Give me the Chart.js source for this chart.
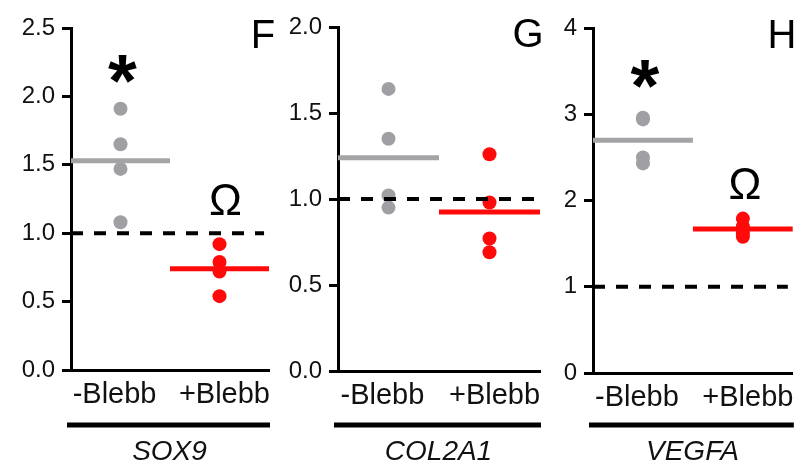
<!DOCTYPE html>
<html><head><meta charset="utf-8">
<script src="https://cdn.jsdelivr.net/npm/chart.js@4"></script>
<style>
html,body{margin:0;padding:0;background:#fff;}
#wrap{position:relative;width:803px;height:463px;overflow:hidden;background:#fff;}
canvas{position:absolute;top:0;left:0;}
</style></head><body>
<div id="wrap">
<canvas id="cF" width="803" height="463"></canvas>
<canvas id="cG" width="803" height="463"></canvas>
<canvas id="cH" width="803" height="463"></canvas>
</div>
<script>
// ---- data ----
const categories = ['-Blebb', '+Blebb'];
const genes = ['SOX9', 'COL2A1', 'VEGFA'];
const panelLetters = ['F', 'G', 'H'];
const sox9Minus = [1.91, 1.65, 1.47, 1.08];
const sox9Plus = [0.92, 0.79, 0.72, 0.54];
const sox9Means = [1.53, 0.74];
const col2a1Minus = [1.64, 1.35, 1.02, 0.95];
const col2a1Plus = [1.26, 0.98, 0.77, 0.69];
const col2a1Means = [1.24, 0.925];
const vegfaMinus = [2.96, 2.94, 2.50, 2.43];
const vegfaPlus = [1.79, 1.70, 1.62, 1.58];
const vegfaMeans = [2.70, 1.67];
const baselineValue = 1.0;
const sox9Ticks = [0, 0.5, 1.0, 1.5, 2.0, 2.5];
const col2a1Ticks = [0, 0.5, 1.0, 1.5, 2.0];
const vegfaTicks = [0, 1, 2, 3, 4];
// significance symbols: [symbol, category index]
const sox9Signif = [['*', 0], ['Ω', 1]];
const col2a1Signif = [];
const vegfaSignif = [['*', 0], ['Ω', 1]];

// ---- styling / layout ----
const FONT = "'Liberation Sans', Arial, Helvetica, sans-serif";
const GRAY_PT = '#a0a0a4';
const GRAY_LN = '#a4a4a7';
const RED = '#ff0a0a';
const LABEL_POS = [0.44, 1.55];   // x-label anchor positions (layout)

const panels = [
  {id:'cF', gene:genes[0], letter:panelLetters[0], minus:sox9Minus, plus:sox9Plus, means:sox9Means, ticks:sox9Ticks, dec:1,
   signif:sox9Signif, signifPos:{'*':[0.52, 2.24],'Ω':[1.56, 1.25]},
   left:0, yW:71, right:269, top:28, bottom:370, letterDx:-6},
  {id:'cG', gene:genes[1], letter:panelLetters[1], minus:col2a1Minus, plus:col2a1Plus, means:col2a1Means, ticks:col2a1Ticks, dec:1,
   signif:col2a1Signif, signifPos:{},
   left:270, yW:68, right:540, top:27, bottom:371, letterDx:-12},
  {id:'cH', gene:genes[2], letter:panelLetters[2], minus:vegfaMinus, plus:vegfaPlus, means:vegfaMeans, ticks:vegfaTicks, dec:0,
   signif:vegfaSignif, signifPos:{'*':[0.52, 3.53],'Ω':[1.52, 2.20]},
   left:540, yW:53, right:798, top:28, bottom:373, letterDx:-11}
];

const W = 803, H = 463;

function makePlugin(p) {
  return {
    id: 'decor_' + p.id,
    afterDraw(chart) {
      const ctx = chart.ctx;
      const a = chart.chartArea;
      const xs = chart.scales.x, ys = chart.scales.y;
      ctx.save();
      p.signif.forEach(([sym]) => {
        const pos = p.signifPos[sym];
        const px = xs.getPixelForValue(pos[0]);
        const py = ys.getPixelForValue(pos[1]);
        ctx.fillStyle = '#000';
        ctx.textAlign = 'center';
        ctx.textBaseline = 'alphabetic';
        if (sym === '*') {
          ctx.font = 'bold 74px ' + FONT;
          ctx.fillText(sym, px, py + 0.57 * 74);
        } else {
          ctx.font = '44px ' + FONT;
          ctx.fillText(sym, px, py + 0.36 * 44);
        }
      });
      ctx.font = '40px ' + FONT;
      ctx.textAlign = 'center';
      ctx.textBaseline = 'alphabetic';
      ctx.fillStyle = '#000';
      ctx.fillText(p.letter, a.right + p.letterDx, a.top + 6 + 0.358 * 40);
      const x1 = a.left - 4, x2 = a.right + 1;
      ctx.strokeStyle = '#000';
      ctx.lineWidth = 5;
      ctx.beginPath();
      ctx.moveTo(x1, 425); ctx.lineTo(x2, 425);
      ctx.stroke();
      ctx.font = 'italic 28px ' + FONT;
      ctx.fillStyle = '#111';
      ctx.fillText(p.gene, (x1 + x2) / 2 + 1, 450 + 0.358 * 28);
      ctx.restore();
    }
  };
}

panels.forEach(p => {
  const datasets = [
    {label:'baseline', data:[{x:0, y:baselineValue}, {x:1.95, y:baselineValue}], showLine:true,
     borderColor:'#000', borderWidth:4, borderDash:[12, 11], pointRadius:0, order:0},
    {label:'mean-', data:[{x:0, y:p.means[0]}, {x:1, y:p.means[0]}], showLine:true,
     borderColor:GRAY_LN, borderWidth:5, pointRadius:0, order:1},
    {label:'mean+', data:[{x:1, y:p.means[1]}, {x:2, y:p.means[1]}], showLine:true,
     borderColor:RED, borderWidth:5, pointRadius:0, order:1},
    {label:categories[0], data:p.minus.map(v => ({x:0.5, y:v})), showLine:false,
     backgroundColor:GRAY_PT, borderColor:GRAY_PT, pointRadius:7, borderWidth:0, order:2},
    {label:categories[1], data:p.plus.map(v => ({x:1.5, y:v})), showLine:false,
     backgroundColor:RED, borderColor:RED, pointRadius:7, borderWidth:0, order:2}
  ];
  new Chart(document.getElementById(p.id), {
    type:'scatter',
    data:{datasets},
    options:{
      responsive:false, animation:false, devicePixelRatio:1,
      layout:{padding:{left:p.left, right:W - p.right, top:p.top, bottom:0}},
      plugins:{legend:{display:false}, tooltip:{enabled:false}},
      scales:{
        x:{type:'linear', min:0, max:2,
           afterBuildTicks:s => { s.ticks = LABEL_POS.map(v => ({value:v})); },
           afterFit:s => { s.height = H - p.bottom; },
           ticks:{callback:(v) => categories[v < 1 ? 0 : 1], font:{family:FONT, size:29}, color:'#111',
                  padding:8, autoSkip:false, maxRotation:0, minRotation:0},
           grid:{display:false, drawTicks:false},
           border:{display:true, color:'#000', width:3}},
        y:{type:'linear', min:p.ticks[0], max:p.ticks[p.ticks.length - 1],
           afterBuildTicks:s => { s.ticks = p.ticks.map(v => ({value:v})); },
           afterFit:s => { s.width = p.yW; },
           ticks:{callback:(v) => Number(v).toFixed(p.dec), font:{family:FONT, size:24}, color:'#111', padding:7},
           grid:{display:true, drawOnChartArea:false, drawTicks:true, tickLength:9, lineWidth:3, color:'#000'},
           border:{display:true, color:'#000', width:3}}
      }
    },
    plugins:[makePlugin(p)]
  });
});
</script>
</body></html>
